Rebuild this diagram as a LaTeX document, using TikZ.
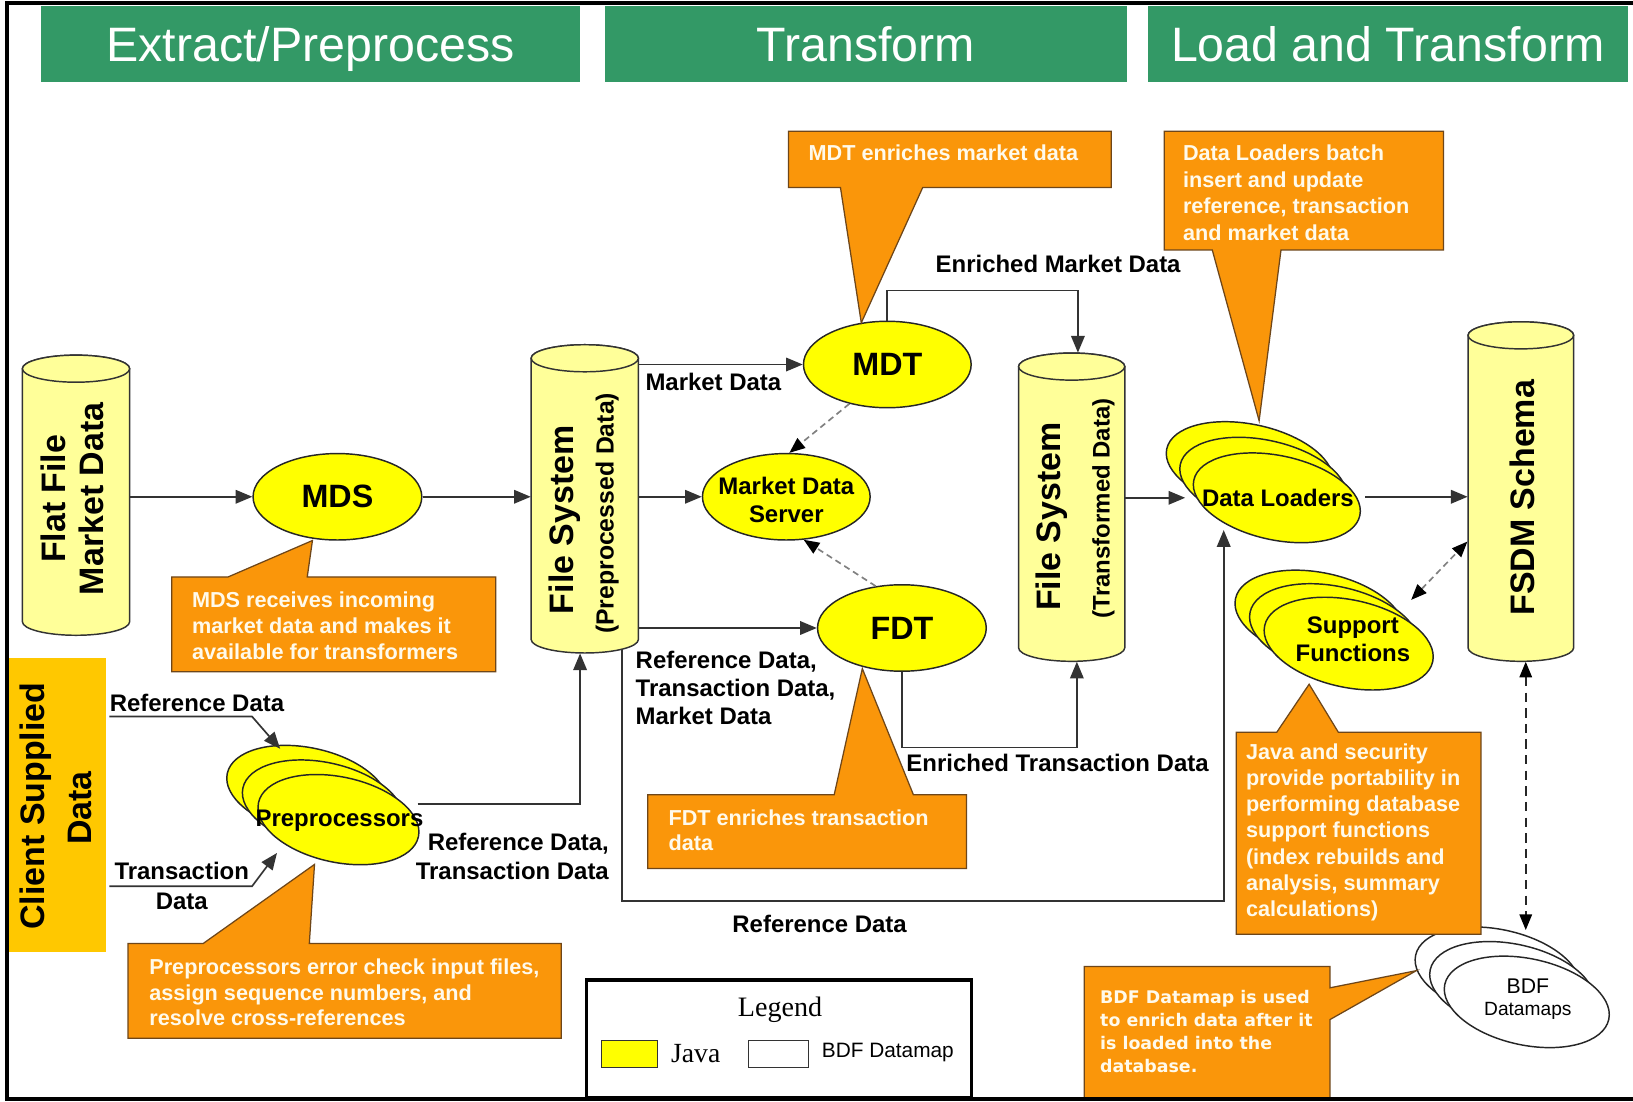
\documentclass[tikz,border=0pt]{standalone}
\usepackage{fontspec}
\setmainfont{Liberation Sans}
\newfontfamily\legendserif{Liberation Serif}
\newfontfamily\bdffont{DejaVu Sans}
\usetikzlibrary{shapes.geometric,arrows.meta}
\definecolor{hdrgreen}{RGB}{51,153,102}
\definecolor{calloutfill}{RGB}{250,150,10}
\definecolor{calloutline}{RGB}{110,70,25}
\definecolor{cylfill}{RGB}{255,255,153}
\definecolor{procfill}{RGB}{255,255,0}
\definecolor{clientfill}{RGB}{255,200,0}
\definecolor{ctext}{RGB}{255,250,235}
\newcommand{\drawcyl}[4]{%
  \filldraw[cylstyle] ({#1-#2},#3) -- ({#1-#2},#4) arc[start angle=180,end angle=360,x radius={#2*0.5pt},y radius=6.5pt] -- ({#1+#2},#3) arc[start angle=0,end angle=180,x radius={#2*0.5pt},y radius=6.5pt] -- cycle;
  \draw[cylstyle] (#1,#3) ellipse[x radius={#2*0.5pt},y radius=6.5pt];}
\begin{document}
\begin{tikzpicture}[x=0.5pt,y=0.5pt,
  hdr/.style={fill=hdrgreen, text=white, font=\fontsize{23.2}{28}\selectfont, minimum height=36.5pt, inner sep=0pt, text height=16.7pt, text depth=0pt},
  big/.style={font=\bfseries\fontsize{16.3}{19.5}\selectfont, inner sep=0pt},
  mid/.style={font=\bfseries\fontsize{11.5}{13.8}\selectfont, inner sep=0pt},
  proc/.style={ellipse, draw=black!85, fill=procfill, line width=0.7pt, inner sep=0pt, font=\bfseries\fontsize{15.5}{18}\selectfont},
  stackw/.style={ellipse, draw=black!85, fill=white, line width=0.7pt, inner sep=0pt},
  cylstyle/.style={draw=black!80, fill=cylfill, line width=0.7pt},
  anchorbox/.style={inner sep=0pt, draw=none},
  callout/.style={fill=calloutfill, draw=calloutline, line width=0.6pt, line join=miter},
  ctxt/.style={font=\bfseries\fontsize{10.4}{12.6}\selectfont, text=ctext, align=left, anchor=north west, inner sep=0pt},
  arr/.style={draw=black!80, line width=0.8pt, -{Triangle[length=8pt,width=6.5pt]}},
  darr/.style={draw=black!50, line width=0.8pt, dash pattern=on 3pt off 2pt, -{Triangle[length=7.5pt,width=6pt,color=black]}},
  bdarr/.style={draw=black!50, line width=0.8pt, dash pattern=on 3pt off 2pt, {Triangle[length=7.5pt,width=6pt,color=black]}-{Triangle[length=7.5pt,width=6pt,color=black]}},
  kdarr/.style={draw=black!85, line width=0.8pt, dash pattern=on 4.5pt off 3pt, {Triangle[length=7.5pt,width=6pt,color=black]}-{Triangle[length=7.5pt,width=6pt,color=black]}}
]
\useasboundingbox (0,0) rectangle (1568,-1058);
\fill[white] (0,0) rectangle (1568,-1058);

% headers
\node[hdr, minimum width=259pt] (h1) at (298,-42) {Extract/Preprocess};
\node[hdr, minimum width=250.5pt] (h2) at (831.5,-42) {Transform};
\node[hdr, minimum width=230.5pt] (h3) at (1332.5,-42) {Load and Transform};

% client box
\node[fill=clientfill, minimum width=46.7pt, minimum height=141pt, inner sep=0pt] (client) at (55.3,-773) {};
\node[big, rotate=90] (clientt1) at (34,-774) {Client Supplied};
\node[big, rotate=90] (clientt2) at (77,-776) {Data};

% cylinders
\drawcyl{73}{51.5}{-354}{-597}
\node[anchorbox, minimum width=51.5pt, minimum height=120pt] (ff) at (73,-477) {};
\node[big, rotate=90] (fft1) at (51,-479) {Flat File};
\node[big, rotate=90] (fft2) at (88,-479) {Market Data};

\drawcyl{561.5}{51.5}{-344}{-614}
\node[anchorbox, minimum width=51.5pt, minimum height=148pt] (fsp) at (561.5,-479) {};
\node[big, rotate=90] (fspt1) at (542,-499) {File System};
\node[mid, rotate=90, font=\bfseries\fontsize{11.9}{14}\selectfont] (fspt2) at (583,-493) {(Preprocessed Data)};

\drawcyl{1029}{51}{-352}{-622}
\node[anchorbox, minimum width=51pt, minimum height=148pt] (fst) at (1029,-487) {};
\node[big, rotate=90] (fstt1) at (1010,-496) {File System};
\node[mid, rotate=90] (fstt2) at (1059.5,-488) {(Transformed Data)};

\drawcyl{1460.3}{50.7}{-322}{-622}
\node[anchorbox, minimum width=50.7pt, minimum height=163pt] (fsdm) at (1460.3,-472) {};
\node[big, rotate=90] (fsdmt) at (1462,-478) {FSDM Schema};

% processes
\node[proc, minimum width=81pt, minimum height=41.5pt] (mds) at (324,-477) {MDS};
\node[proc, minimum width=80.5pt, minimum height=41.5pt] (mdt) at (852,-350) {MDT};
\node[proc, minimum width=80.5pt, minimum height=41.5pt] (mdsrv) at (755,-477) {};
\node[mid, align=center, font=\bfseries\fontsize{11.5}{13.5}\selectfont] (mdsrvt) at (755,-480) {Market Data\\Server};
\node[proc, minimum width=81pt, minimum height=41.5pt] (fdt) at (866,-603) {FDT};

% stacks
\node[proc, rotate=-12, minimum width=78.5pt, minimum height=41pt] (pp3) at (295,-759) {};
\node[proc, rotate=-12, minimum width=78.5pt, minimum height=41pt] (pp2) at (310,-773) {};
\node[proc, rotate=-12, minimum width=78.5pt, minimum height=41pt] (pp1) at (325,-787) {};
\node[mid] (ppt) at (326,-788) {Preprocessors};

\node[proc, rotate=-12, minimum width=81.5pt, minimum height=40.5pt] (dl3) at (1200,-448) {};
\node[proc, rotate=-12, minimum width=81.5pt, minimum height=40.5pt] (dl2) at (1213,-463) {};
\node[proc, rotate=-12, minimum width=81.5pt, minimum height=40.5pt] (dl1) at (1226,-478) {};
\node[mid] (dlt) at (1227,-478) {Data Loaders};

\node[proc, rotate=-12, minimum width=82.5pt, minimum height=42pt] (sf3) at (1267,-592) {};
\node[proc, rotate=-12, minimum width=82.5pt, minimum height=42pt] (sf2) at (1281,-605) {};
\node[proc, rotate=-12, minimum width=82.5pt, minimum height=42pt] (sf1) at (1295,-618) {};
\node[mid, align=center, font=\bfseries\fontsize{11.5}{13.5}\selectfont] (sft) at (1299,-614) {Support\\Functions};

\node[stackw, rotate=-12, minimum width=80.5pt, minimum height=41.5pt] (bdf3) at (1438,-934) {};
\node[stackw, rotate=-12, minimum width=80.5pt, minimum height=41.5pt] (bdf2) at (1452,-948) {};
\node[stackw, rotate=-12, minimum width=80.5pt, minimum height=41.5pt] (bdf1) at (1466,-962) {};
\node[inner sep=0pt, font=\fontsize{10.2}{12}\selectfont] (bdft1) at (1467,-947) {BDF};
\node[inner sep=0pt, font=\fontsize{9.2}{11}\selectfont] (bdft2) at (1467,-971) {Datamaps};

% coordinates for free ends
\coordinate (dlin) at (1138,-478);
\coordinate (dlout) at (1311,-477);
\coordinate (dlbot) at (1175,-509);
\coordinate (fspref) at (597,-623);
\coordinate (sfne) at (1355,-576);
\coordinate (fsdmsw) at (1409,-520);
\coordinate (bdftop) at (1465,-893);
\coordinate (refin) at (105,-688);
\coordinate (reftip) at (269,-719);
\coordinate (trin) at (105,-851);
\coordinate (trtip) at (266,-819);
\coordinate (ppout) at (401,-772);

% connectors
\draw[arr] (ff.east) -- (mds.west);
\draw[arr] (mds.east) -- (mds.east -| fsp.west);
\draw[arr] (fsp.east |- mdt.west) -- (mdt.west);
\draw[arr] (fsp.east |- mdsrv.west) -- (mdsrv.west);
\draw[arr] (fsp.east |- fdt.west) -- (fdt.west);
\draw[darr] (mdt.226) -- (mdsrv.86);
\draw[darr] (fdt.122) -- (mdsrv.292);
\draw[arr] (mdt.north) -- ++(0,29) -| ([xshift=3pt]fst.north);
\draw[arr] (fdt.south) -- ++(0,-72.5) -| ([xshift=2.5pt]fst.south);
\draw[arr] (fst.east |- dlin) -- (dlin);
\draw[arr] (dlout) -- (dlout -| fsdm.west);
\draw[arr] (fspref) -- ++(0,-242) -| (dlbot);
\draw[bdarr] (sfne) -- (fsdmsw);
\draw[kdarr] ([xshift=2.35pt]fsdm.south) -- (bdftop);
\draw[arr] (refin) -- ++(137,0) -- (reftip);
\draw[arr] (trin) -- ++(137,0) -- (trtip);
\draw[arr] (ppout) -| ([xshift=-2.25pt]fsp.south);

% connector labels
\node[mid] (lmd) at (685,-367) {Market Data};
\node[mid] (lemd) at (1016,-253) {Enriched Market Data};
\node[mid, align=left, anchor=north west, font=\bfseries\fontsize{11.5}{13.5}\selectfont] (lrtm) at (610,-624.5) {Reference Data,\\Transaction Data,\\Market Data};
\node[mid, anchor=west] (letd) at (870,-733) {Enriched Transaction Data};
\node[mid] (lrd) at (787,-887) {Reference Data};
\node[mid, anchor=west] (lrdin) at (105,-675) {Reference Data};
\node[mid, align=center, font=\bfseries\fontsize{11.5}{14.5}\selectfont] (ltd) at (174.5,-850.5) {Transaction\\Data};
\node[mid, align=right, anchor=north east, font=\bfseries\fontsize{11.5}{14}\selectfont] (lrtd) at (585,-799.5) {Reference Data,\\Transaction Data};

% callouts
\path[callout] (757,-126) -- (1067,-126) -- (1067,-180) -- (886,-180) -- (827,-310) -- (807,-180) -- (757,-180) -- cycle;
\node[ctxt] (cmdt) at (776,-139) {MDT enriches market data};

\path[callout] (1118,-126) -- (1386,-126) -- (1386,-240) -- (1230,-240) -- (1209,-404) -- (1164,-240) -- (1118,-240) -- cycle;
\node[ctxt, font=\bfseries\fontsize{10.4}{12.8}\selectfont] (cdl) at (1135.5,-138.5) {Data Loaders batch\\insert and update\\reference, transaction\\and market data};

\path[callout] (165,-554) -- (219,-554) -- (300,-519) -- (295,-554) -- (476,-554) -- (476,-645) -- (165,-645) -- cycle;
\node[ctxt, font=\bfseries\fontsize{10.4}{12.5}\selectfont] (cmds) at (184,-567.5) {MDS receives incoming\\market data and makes it\\available for transformers};

\path[callout] (622,-763) -- (801,-763) -- (828,-642) -- (877,-763) -- (928,-763) -- (928,-834) -- (622,-834) -- cycle;
\node[ctxt, font=\bfseries\fontsize{10.4}{12}\selectfont] (cfdt) at (641.5,-777.5) {FDT enriches transaction\\data};

\path[callout] (123,-906) -- (195,-906) -- (302,-830) -- (297,-906) -- (539,-906) -- (539,-997) -- (123,-997) -- cycle;
\node[ctxt, font=\bfseries\fontsize{10.4}{12.25}\selectfont] (cpp) at (143,-920.5) {Preprocessors error check input files,\\assign sequence numbers, and\\resolve cross-references};

\path[callout] (1187,-703) -- (1226,-703) -- (1257,-657) -- (1285,-703) -- (1422,-703) -- (1422,-897) -- (1187,-897) -- cycle;
\node[ctxt, font=\bfseries\fontsize{10.4}{12.6}\selectfont] (csf) at (1196,-713.5) {Java and security\\provide portability in\\performing database\\support functions\\(index rebuilds and\\analysis, summary\\calculations)};

\path[callout] (1041,-928) -- (1277,-928) -- (1277,-948.5) -- (1360,-932) -- (1277,-979) -- (1277,-1054) -- (1041,-1054) -- cycle;
\node[ctxt, font=\bdffont\bfseries\fontsize{8.35}{11}\selectfont] (cbdf) at (1056,-950.5) {BDF Datamap is used\\to enrich data after it\\is loaded into the\\database.};

% legend
\node[draw, line width=1.5pt, minimum width=185pt, minimum height=56.5pt, inner sep=0pt] (legend) at (748,-997.5) {};
\node[inner sep=0pt, font=\legendserif\fontsize{13.5}{16}\selectfont] (legt) at (749,-970) {Legend};
\node[draw=black!80, fill=procfill, minimum width=27.25pt, minimum height=13pt, inner sep=0pt] (legy) at (604.25,-1012) {};
\node[inner sep=0pt, font=\legendserif\fontsize{13.3}{16}\selectfont] (legj) at (668,-1012) {Java};
\node[draw=black!80, fill=white, minimum width=28.7pt, minimum height=13pt, inner sep=0pt] (legw) at (747.3,-1012) {};
\node[inner sep=0pt, font=\fontsize{10}{12}\selectfont] (legb) at (852.5,-1011) {BDF Datamap};

% frame
\draw[line width=2pt] (1568,-2.5) -- (7,-2.5) -- (7,-1055.5) -- (1568,-1055.5);
\end{tikzpicture}
\end{document}
